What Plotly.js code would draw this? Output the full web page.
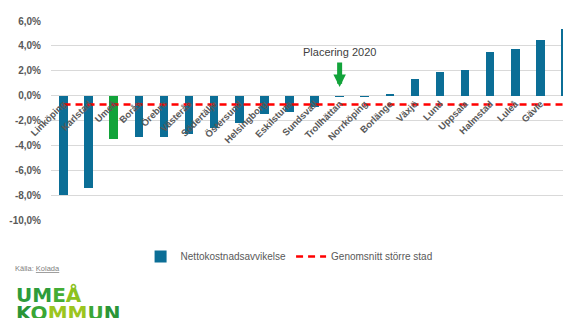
<!DOCTYPE html>
<html>
<head>
<meta charset="utf-8">
<script src="https://cdn.plot.ly/plotly-3.0.1.min.js"></script>
<style>html,body{margin:0;padding:0;background:#fff;}#chart{width:563px;height:318px;}</style>
</head>
<body>
<div id="chart"></div>
<script>
const categories = ["Linköping","Karlstad","Umeå","Borås","Örebro","Västerås","Södertälje","Östersund","Helsingborg","Eskilstuna","Sundsvall","Trollhättan","Norrköping","Borlänge","Växjö","Lund","Uppsala","Halmstad","Luleå","Gävle","Jönköping"];
const nettokostnadsavvikelse = [-8.0,-7.4,-3.5,-3.35,-3.3,-3.1,-2.6,-2.2,-1.5,-1.3,-0.95,-0.08,-0.08,0.1,1.3,1.9,2.05,3.5,3.75,4.45,5.35];
const genomsnittStorreStad = -0.72;
const highlightCity = "Umeå";
const yTickVals = [6,4,2,0,-2,-4,-6,-8,-10];
const yTickText = ["6,0%","4,0%","2,0%","0,0%","-2,0%","-4,0%","-6,0%","-8,0%","-10,0%"];

const blue = "#0B6E96";
const green = "#12A33A";
const gray = "#595959";
const barColors = categories.map(c => c === highlightCity ? green : blue);
const avgLine = categories.map(() => genomsnittStorreStad);

const traces = [
  {
    type: "bar",
    x: categories,
    y: nettokostnadsavvikelse,
    name: "Nettokostnadsavvikelse",
    marker: {color: barColors},
    width: 0.34,
    hoverinfo: "skip"
  },
  {
    type: "scatter",
    mode: "lines",
    x: categories,
    y: avgLine,
    name: "Genomsnitt större stad",
    line: {color: "#FF0000", width: 2.5, dash: "7px,5px"},
    hoverinfo: "skip"
  }
];

const layout = {
  width: 563,
  height: 318,
  margin: {l: 51, r: 0, t: 21, b: 98, pad: 0},
  paper_bgcolor: "#ffffff",
  plot_bgcolor: "#ffffff",
  showlegend: true,
  bargap: 0,
  xaxis: {
    type: "category",
    range: [-0.5, 19.9],
    anchor: "free",
    position: 0.625,
    tickangle: -45,
    showgrid: false,
    showline: false,
    ticks: "",
    automargin: false,
    tickfont: {family: "Liberation Sans, Arial, sans-serif", size: 9.5, color: gray, weight: "bold"},
    fixedrange: true
  },
  yaxis: {
    range: [-10, 6],
    tickvals: yTickVals,
    ticktext: yTickText,
    showgrid: true,
    gridcolor: "#D9D9D9",
    gridwidth: 1,
    zeroline: true,
    zerolinecolor: "#D9D9D9",
    zerolinewidth: 1,
    showline: false,
    ticks: "",
    ticklabelstandoff: 9,
    automargin: false,
    tickfont: {family: "Liberation Sans, Arial, sans-serif", size: 10, color: gray, weight: "bold"},
    fixedrange: true
  },
  legend: {
    orientation: "h",
    x: 0.465,
    xanchor: "center",
    y: -0.183,
    yanchor: "middle",
    font: {family: "Liberation Sans, Arial, sans-serif", size: 10, color: gray},
    bgcolor: "rgba(0,0,0,0)",
    itemwidth: 30,
    traceorder: "normal"
  },
  annotations: [
    {
      x: "Trollhättan", y: 3.5, xref: "x", yref: "y",
      text: "Placering 2020", showarrow: false,
      font: {family: "Liberation Sans, Arial, sans-serif", size: 11, color: "#404040"},
      xanchor: "center", yanchor: "middle"
    },
    {
      x: "Trollhättan", y: 0.7, xref: "x", yref: "y",
      text: "", showarrow: true,
      ax: 0, ay: -26,
      arrowhead: 2, arrowsize: 0.5, arrowwidth: 5, arrowcolor: green
    },
    {
      xref: "paper", yref: "paper", x: -0.074, y: -0.2435,
      xanchor: "left", yanchor: "middle", showarrow: false,
      text: "Källa: <span style='text-decoration:underline;text-decoration-color:#e05050'>Kolada</span>",
      font: {family: "Liberation Sans, Arial, sans-serif", size: 7.5, color: "#7f7f7f"}
    },
    {
      xref: "paper", yref: "paper", x: -0.073, y: -0.378,
      xanchor: "left", yanchor: "middle", showarrow: false,
      text: "<span style='color:#2E9C3A'>UM</span><span style='color:#43AD35'>E</span><span style='color:#8CC21F'>Å</span>",
      font: {family: "DejaVu Sans, sans-serif", size: 20, weight: "bold"}
    },
    {
      xref: "paper", yref: "paper", x: -0.073, y: -0.466,
      xanchor: "left", yanchor: "middle", showarrow: false,
      text: "<span style='color:#2A9537'>K</span><span style='color:#3AA635'>O</span><span style='color:#9CC51E'>MM</span><span style='color:#3AA635'>U</span><span style='color:#2A9537'>N</span>",
      font: {family: "DejaVu Sans, sans-serif", size: 20, weight: "bold"}
    }
  ]
};

Plotly.newPlot("chart", traces, layout, {staticPlot: true, displayModeBar: false});
</script>
</body>
</html>
